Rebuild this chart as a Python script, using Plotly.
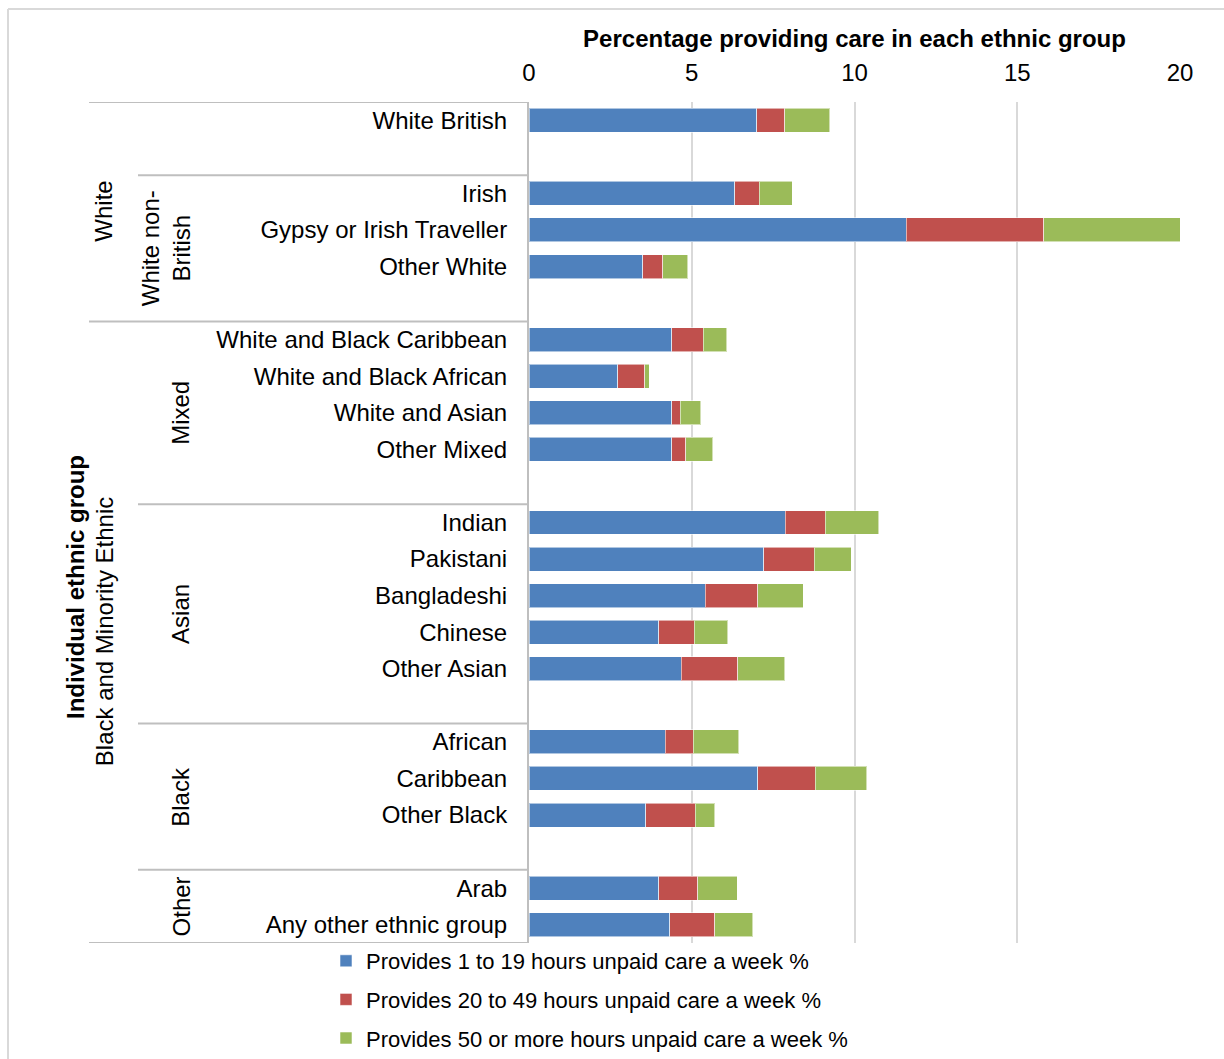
import plotly.graph_objects as go

W, H = 1224, 1059

# Rows of the category axis (blank strings are spacer rows between groups)
rows = ["White British", "", "Irish", "Gypsy or Irish Traveller", "Other White", "",
        "White and Black Caribbean", "White and Black African", "White and Asian", "Other Mixed", "",
        "Indian", "Pakistani", "Bangladeshi", "Chinese", "Other Asian", "",
        "African", "Caribbean", "Other Black", "",
        "Arab", "Any other ethnic group"]

categories = [r for r in rows if r]

hours_1_19 = [7.00, 6.32, 11.59, 3.49, 4.39, 2.73, 4.38, 4.38, 7.88, 7.21, 5.42, 3.98, 4.67,
              4.19, 7.02, 3.59, 3.99, 4.33]
hours_20_49 = [0.85, 0.76, 4.22, 0.62, 0.97, 0.83, 0.27, 0.44, 1.22, 1.56, 1.60, 1.09, 1.75,
               0.86, 1.78, 1.51, 1.20, 1.38]
hours_50_plus = [1.39, 1.01, 4.19, 0.76, 0.72, 0.13, 0.62, 0.83, 1.65, 1.13, 1.40, 1.03, 1.44,
                 1.40, 1.57, 0.60, 1.21, 1.16]

series_names = ["Provides 1 to 19 hours unpaid care a week %",
                "Provides 20 to 49 hours unpaid care a week %",
                "Provides 50 or more hours unpaid care a week %"]
series_colors = ["#4F81BD", "#C0504D", "#9BBB59"]

# Group labels: (label, first row, last row)
level1_groups = [("White", 0, 5), ("Black and Minority Ethnic", 6, 22)]
level2_groups = [("", 0, 1), ("White non-<br>British", 2, 5), ("Mixed", 6, 10),
                 ("Asian", 11, 16), ("Black", 17, 20), ("Other", 21, 22)]

x_ticks = [0, 5, 10, 15, 20]

ypos = [rows.index(c) for c in categories]

# layout geometry (pixels)
plot_l, plot_r, plot_t, plot_b = 529, 1180, 102, 943
lvl1_x, lvl2_x = 89, 138

def px(x):
    return x / W

def py(y):
    return 1 - y / H

FONT = "Liberation Sans, Arial, sans-serif"
fs = 24

fig = go.Figure()
for vals, name, col in zip([hours_1_19, hours_20_49, hours_50_plus], series_names, series_colors):
    fig.add_trace(go.Bar(
        x=vals, y=ypos, orientation="h", name=name,
        marker=dict(color=col, line=dict(color="rgba(255,255,255,0.55)", width=1)),
        legendgroup=name,
    ))

shapes = []
n = len(rows)
lvl1_bounds = sorted(set([g[1] - 0.5 for g in level1_groups] + [level1_groups[-1][2] + 0.5]))
lvl2_bounds = sorted(set([g[1] - 0.5 for g in level2_groups]) - set(lvl1_bounds))
for b in lvl1_bounds:
    shapes.append(dict(type="line", xref="paper", yref="y", x0=px(lvl1_x), x1=px(plot_l),
                       y0=b, y1=b, line=dict(color="#BFBFBF", width=2)))
for b in lvl2_bounds:
    shapes.append(dict(type="line", xref="paper", yref="y", x0=px(lvl2_x), x1=px(plot_l),
                       y0=b, y1=b, line=dict(color="#BFBFBF", width=2)))
# chart border
shapes.append(dict(type="line", xref="paper", yref="paper", x0=px(8), x1=1.01, y0=py(9), y1=py(9),
                   line=dict(color="#D9D9D9", width=2)))
shapes.append(dict(type="line", xref="paper", yref="paper", x0=px(8), x1=px(8), y0=py(9), y1=-0.01,
                   line=dict(color="#D9D9D9", width=2)))

annotations = []
for label, a, b in level1_groups:
    annotations.append(dict(text=label, xref="paper", yref="y", x=px(104), y=(a + b) / 2,
                            textangle=-90, showarrow=False, xanchor="center", yanchor="middle",
                            font=dict(family=FONT, size=fs, color="#000000")))
for label, a, b in level2_groups:
    if not label:
        continue
    xx = 166 if "<br>" in label else 181
    annotations.append(dict(text=label, xref="paper", yref="y", x=px(xx), y=(a + b) / 2,
                            textangle=-90, showarrow=False, xanchor="center", yanchor="middle",
                            font=dict(family=FONT, size=fs, color="#000000")))
annotations.append(dict(text="<b>Individual ethnic group</b>", xref="paper", yref="paper",
                        x=px(75), y=py(587), textangle=-90, showarrow=False,
                        xanchor="center", yanchor="middle",
                        font=dict(family=FONT, size=fs, color="#000000")))

fig.update_layout(
    width=W, height=H, autosize=False,
    margin=dict(l=0, r=0, t=0, b=0),
    paper_bgcolor="white", plot_bgcolor="white",
    barmode="stack", bargap=0.344,
    font=dict(family=FONT, size=fs, color="#000000"),
    xaxis=dict(
        domain=[px(plot_l), px(plot_r)], side="top", range=[0, 20],
        tickvals=x_ticks, ticktext=[str(t) for t in x_ticks],
        showgrid=True, gridcolor="#D9D9D9", gridwidth=2, zeroline=False, showline=False,
        ticks="", ticklabelstandoff=15, automargin=False,
        tickfont=dict(family=FONT, size=fs, color="#000000"),
        title=dict(text="<b>Percentage providing care in each ethnic group</b>", standoff=4,
                   font=dict(family=FONT, size=fs, color="#000000")),
        fixedrange=True,
    ),
    yaxis=dict(
        domain=[py(plot_b), py(plot_t)], range=[n - 0.5, -0.5], automargin=False,
        tickvals=ypos, ticktext=categories, showgrid=False, zeroline=False,
        showline=True, linecolor="#BFBFBF", linewidth=2, ticks="", ticklabelstandoff=15,
        tickfont=dict(family=FONT, size=fs, color="#000000"),
        fixedrange=True,
    ),
    legend=dict(orientation="v", x=px(326), xanchor="left", y=0, yanchor="bottom",
                traceorder="grouped", tracegroupgap=7,
                font=dict(family=FONT, size=22, color="#000000"), bgcolor="rgba(0,0,0,0)"),
    shapes=shapes, annotations=annotations,
)

fig.write_html("out.html")
